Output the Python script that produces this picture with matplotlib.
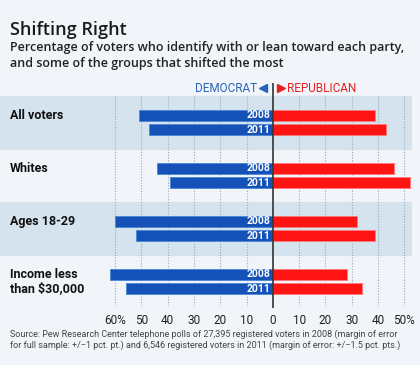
import matplotlib.pyplot as plt

groups = ["All voters", "Whites", "Ages 18-29", "Income less\nthan $30,000"]
dem_2008 = [51, 44, 60, 62]
dem_2011 = [47, 39, 52, 56]
rep_2008 = [39, 46, 32, 28]
rep_2011 = [43, 52, 39, 34]
years = ["2008", "2011"]
ticks = [-60, -50, -40, -30, -20, -10, 0, 10, 20, 30, 40, 50]
tick_labels = ["60%", "50", "40", "30", "20", "10", "0", "10", "20", "30", "40", "50%"]

bg = "#f1f5fa"
band = "#d5e3ef"
blue = "#1552b8"
red = "#ff1414"

plt.rcParams['font.family'] = ['Roboto', 'DejaVu Sans']

fig = plt.figure(figsize=(4.2, 3.65), dpi=100, facecolor=bg)
ax = fig.add_axes([0, 57 / 365, 412 / 420, 225 / 365])
ax.set_facecolor("none")
ax.set_xlim(-103.8, 52.9)
ax.set_ylim(3.5, -0.745)
for s in ax.spines.values():
    s.set_visible(False)

for i in range(len(groups)):
    if i % 2 == 0:
        ax.axhspan(i - 0.5, i + 0.5, color=band, zorder=0)

ax.vlines([t for t in ticks if t != 0], -0.5, 3.45, colors="#9aa6b2",
          linestyles=(0, (1, 1.5)), linewidth=0.8, zorder=1)
ax.axvline(0, color="#333333", linewidth=1.2, zorder=4)

h = 0.215
off = 0.135
for i in range(len(groups)):
    for k, (d, r) in enumerate([(dem_2008[i], rep_2008[i]), (dem_2011[i], rep_2011[i])]):
        y = i - off if k == 0 else i + off
        ax.barh(y, -d, height=h, color=blue, edgecolor="#4a86d8", linewidth=0.6, zorder=2)
        ax.barh(y, r, height=h, color=red, edgecolor="#ff7a7a", linewidth=0.6, zorder=2)
        ax.text(-1.1, y, years[k], color="white", fontsize=7.5, fontweight="bold",
                ha="right", va="center", zorder=3)
    ly = i if "\n" in groups[i] else i - 0.13
    ax.text(-100, ly, groups[i], fontsize=9, fontweight="bold", color="#111111",
            ha="left", va="center", linespacing=1.15)

ax.set_xticks(ticks)
ax.set_xticklabels(tick_labels, fontsize=8.5, color="#222222")
ax.tick_params(axis="x", length=0, pad=4)
ax.set_yticks([])

# legend
ax.text(-6.1, -0.65, "DEMOCRAT", color="#2a64b8", fontsize=8.5, ha="right", va="center")
ax.plot([-3.6], [-0.65], marker="<", color="#2a64b8", markersize=5.5, clip_on=False)
ax.plot([3.0], [-0.65], marker=">", color="#e82020", markersize=5.5, clip_on=False)
ax.text(5.3, -0.65, "REPUBLICAN", color="#e82020", fontsize=8.5, ha="left", va="center")

fig.text(10 / 420, 1 - 30 / 365, "Shifting Right", fontsize=13, fontweight="semibold",
         family=["Open Sans", "DejaVu Sans"], color="#1a1a1a", ha="left", va="center")
fig.text(10 / 420, 1 - 48 / 365, "Percentage of voters who identify with or lean toward each party,",
         fontsize=9.0, fontweight="semibold", family=["Open Sans", "DejaVu Sans"],
         color="#222222", ha="left", va="center")
fig.text(10 / 420, 1 - 63 / 365, "and some of the groups that shifted the most",
         fontsize=9.0, fontweight="semibold", family=["Open Sans", "DejaVu Sans"],
         color="#222222", ha="left", va="center")
fig.text(10 / 420, 1 - 334 / 365,
         "Source: Pew Research Center telephone polls of 27,395 registered voters in 2008 (margin of error",
         fontsize=6.5, color="#444444", ha="left", va="center")
fig.text(10 / 420, 1 - 345 / 365,
         "for full sample: +/\u22121 pct. pt.) and 6,546 registered voters in 2011 (margin of error: +/\u22121.5 pct. pts.)",
         fontsize=6.5, color="#444444", ha="left", va="center")

fig.savefig("out.png", dpi=100, facecolor=bg)
